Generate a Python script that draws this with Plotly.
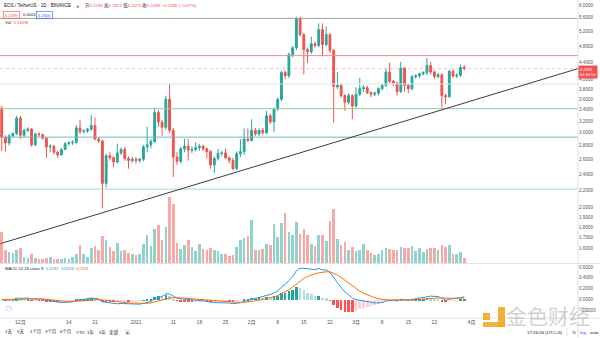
import math
import pandas as pd
import plotly.graph_objects as go

# ---------------- data ----------------
start_date = "2020-11-26"

opens = [3.43, 2.93, 2.84, 2.95, 2.99, 3.25, 2.96, 3.04, 3.06, 2.81,
         2.98, 2.97, 2.91, 2.78, 2.79, 2.70, 2.66, 2.74, 2.83, 2.84,
         2.85, 3.08, 3.02, 3.03, 3.06, 3.12, 2.90, 2.87, 2.28, 2.65,
         2.62, 2.56, 2.69, 2.74, 2.61, 2.58, 2.60, 2.58, 2.60, 2.78,
         2.81, 2.86, 3.35, 3.18, 3.09, 3.60, 3.04, 2.63, 2.57, 2.75,
         2.79, 2.73, 2.74, 2.77, 2.79, 2.75, 2.71, 2.52, 2.61, 2.68,
         2.69, 2.62, 2.58, 2.47, 2.68, 2.71, 2.90, 2.88, 3.04, 2.98,
         3.04, 3.00, 3.29, 3.18, 3.41, 3.60, 4.16, 4.09, 4.59, 4.76,
         5.58, 5.11, 4.71, 4.66, 4.86, 4.82, 5.25, 4.84, 5.11, 4.69,
         3.85, 3.88, 3.67, 3.54, 3.67, 3.47, 3.70, 3.81, 3.83, 3.73,
         3.70, 3.72, 3.81, 3.88, 4.17, 3.97, 3.93, 3.75, 4.26, 3.88,
         3.81, 4.07, 4.09, 4.13, 4.16, 4.32, 4.17, 4.07, 4.11, 3.67,
         3.65, 4.19, 4.08, 4.10, 4.2786]
highs = [3.47, 2.96, 2.98, 3.01, 3.29, 3.29, 3.07, 3.09, 3.08, 3.00,
         3.01, 2.99, 2.93, 2.82, 2.81, 2.72, 2.76, 2.85, 2.87, 2.88,
         3.13, 3.22, 3.06, 3.08, 3.30, 3.26, 2.93, 2.89, 2.68, 2.70,
         2.64, 2.83, 2.77, 2.78, 2.64, 2.63, 2.63, 2.62, 2.81, 3.10,
         2.90, 3.44, 3.40, 3.22, 3.66, 3.91, 3.08, 2.70, 2.78, 2.90,
         2.90, 2.79, 2.85, 2.82, 2.81, 2.77, 2.73, 2.64, 2.75, 2.72,
         2.75, 2.64, 2.62, 2.71, 2.90, 3.07, 3.07, 3.23, 3.08, 3.07,
         3.08, 3.38, 3.33, 3.44, 3.63, 4.20, 4.20, 4.64, 4.80, 5.63,
         5.63, 5.15, 4.76, 5.05, 4.92, 5.43, 5.43, 5.34, 5.15, 4.72,
         4.17, 3.92, 3.70, 3.72, 3.70, 3.84, 4.04, 3.88, 3.87, 3.76,
         3.75, 3.84, 3.91, 4.24, 4.39, 4.00, 3.96, 4.41, 4.29, 3.92,
         4.10, 4.12, 4.16, 4.19, 4.50, 4.41, 4.21, 4.15, 4.14, 3.71,
         4.22, 4.23, 4.14, 4.34, 4.3322]
lows = [2.72, 2.71, 2.80, 2.93, 2.96, 2.90, 2.93, 3.01, 2.78, 2.79,
        2.94, 2.89, 2.62, 2.70, 2.67, 2.62, 2.65, 2.73, 2.80, 2.81,
        2.82, 2.98, 2.99, 3.00, 3.03, 2.88, 2.84, 1.99, 2.23, 2.58,
        2.49, 2.54, 2.66, 2.58, 2.47, 2.55, 2.54, 2.55, 2.57, 2.70,
        2.76, 2.84, 3.10, 2.95, 3.05, 3.00, 2.36, 2.52, 2.54, 2.70,
        2.58, 2.69, 2.71, 2.72, 2.72, 2.62, 2.47, 2.41, 2.58, 2.64,
        2.60, 2.54, 2.45, 2.45, 2.63, 2.66, 2.85, 2.86, 2.95, 2.95,
        2.96, 2.98, 3.14, 3.01, 3.38, 3.56, 4.01, 4.04, 4.52, 4.70,
        5.05, 4.12, 4.38, 4.60, 4.76, 4.78, 4.54, 4.80, 4.62, 3.17,
        3.80, 3.63, 3.38, 3.50, 3.23, 3.44, 3.66, 3.74, 3.70, 3.64,
        3.66, 3.68, 3.78, 3.85, 3.93, 3.86, 3.67, 3.72, 3.75, 3.72,
        3.78, 4.02, 4.04, 4.10, 4.10, 4.12, 4.02, 4.03, 3.44, 3.50,
        3.63, 4.04, 4.04, 4.06, 4.2073]
closes = [2.93, 2.84, 2.95, 2.99, 3.25, 2.96, 3.04, 3.06, 2.81, 2.98,
          2.97, 2.91, 2.78, 2.79, 2.70, 2.66, 2.74, 2.83, 2.84, 2.85,
          3.08, 3.02, 3.03, 3.06, 3.12, 2.90, 2.87, 2.28, 2.65, 2.62,
          2.56, 2.69, 2.74, 2.61, 2.58, 2.60, 2.58, 2.60, 2.78, 2.81,
          2.86, 3.35, 3.18, 3.09, 3.60, 3.04, 2.63, 2.57, 2.75, 2.79,
          2.73, 2.74, 2.77, 2.79, 2.75, 2.71, 2.52, 2.61, 2.68, 2.69,
          2.62, 2.58, 2.47, 2.68, 2.71, 2.90, 2.88, 3.04, 2.98, 3.04,
          3.00, 3.29, 3.18, 3.41, 3.60, 4.16, 4.09, 4.59, 4.76, 5.58,
          5.11, 4.71, 4.66, 4.86, 4.82, 5.25, 4.84, 5.11, 4.69, 3.86,
          3.88, 3.67, 3.54, 3.67, 3.47, 3.70, 3.81, 3.83, 3.73, 3.70,
          3.72, 3.81, 3.88, 4.17, 3.97, 3.93, 3.75, 4.26, 3.88, 3.81,
          4.07, 4.09, 4.13, 4.16, 4.32, 4.17, 4.07, 4.11, 3.67, 3.65,
          4.19, 4.08, 4.10, 4.2786, 4.2499]
volumes_m = [34.1, 14.3, 12.1, 11.0, 14.3, 16.5, 6.6, 5.5, 9.9, 5.5,
             4.4, 4.4, 5.5, 6.6, 4.4, 4.8, 4.4, 5.5, 4.4, 6.6,
             9.9, 19.8, 9.9, 6.6, 16.5, 18.7, 14.3, 29.7, 25.3, 17.6,
             13.2, 22.0, 13.2, 14.3, 11.0, 9.9, 8.8, 9.9, 20.9, 30.8,
             18.7, 37.4, 41.8, 25.3, 39.6, 72.6, 64.9, 22.0, 15.4, 19.8,
             25.3, 17.6, 13.2, 20.9, 15.4, 14.3, 16.5, 14.3, 13.2, 9.9,
             9.9, 7.7, 8.8, 17.6, 25.3, 27.5, 29.7, 47.3, 14.3, 14.3,
             15.4, 20.9, 19.8, 42.9, 28.6, 44.0, 55.0, 34.1, 30.8, 45.1,
             31.9, 37.4, 30.8, 20.9, 18.7, 30.8, 30.8, 24.2, 46.2, 59.4,
             26.4, 19.8, 23.1, 14.3, 17.6, 13.2, 14.3, 20.9, 14.3, 11.0,
             8.8, 9.9, 14.3, 16.5, 15.4, 14.3, 14.3, 17.6, 16.5, 16.5,
             18.7, 13.2, 16.5, 12.1, 15.4, 16.5, 16.5, 14.3, 19.8, 17.6,
             19.8, 9.9, 9.9, 12.1, 5.562]

# horizontal drawing levels and the trend line
level_prices = [5.58, 4.56, 3.91, 3.42, 2.93, 2.21]
trend_dates = ["2020-11-25 13:00", "2021-04-29 12:00"]
trend_prices = [1.643, 4.25]
last_price = 4.2499

price_ticks = [6.0, 5.6, 5.2, 4.8, 4.4, 4.0, 3.8, 3.6, 3.4, 3.2, 3.0, 2.8,
               2.6, 2.4, 2.2, 2.0, 1.9, 1.8, 1.7, 1.6]
macd_ticks = [0.6, 0.4, 0.2, 0.0, -0.2]
tick_dates = ["2020-12-01", "2020-12-14", "2020-12-21", "2021-01-01",
              "2021-01-11", "2021-01-18", "2021-01-25", "2021-02-01",
              "2021-02-08", "2021-02-15", "2021-02-22", "2021-03-01",
              "2021-03-08", "2021-03-15", "2021-03-22", "2021-04-01"]
tick_text = ["12月", "14", "21", "2021", "11", "18", "25", "2月", "8", "15",
             "22", "3月", "8", "15", "22", "4月"]
range_buttons = ["1天", "5天", "1个月", "3个月", "6个月", "YTD", "1年", "5年", "全部"]

# ---------------- styles ----------------
UP = "#26a69a"
DN = "#ef5350"
level_colors = ["#a0a0a0", "#ef8a87", "#dde5e0", "#98cc9c", "#6bbcc3", "#a3d3dc"]
FONT = "Liberation Sans, Noto Sans CJK SC, sans-serif"
W, H = 600, 338
ML, MR, MT, MB = 0, 22, 0, 20
PW, PH = W - ML - MR, H - MT - MB


def px(x):
    return x / PW


def py(y):
    return 1 - y / PH


dates = pd.date_range(start_date, periods=len(closes), freq="D")
day = pd.Timedelta(days=1)
x_range = [pd.Timestamp(start_date) - 0.456 * day,
           pd.Timestamp(start_date) + ((PW - 1.7) / 3.73) * day]

# MACD (12, 26, 9) from the closes
cs = pd.Series(closes)
ema12 = cs.ewm(span=12, adjust=False).mean()
ema26 = cs.ewm(span=26, adjust=False).mean()
macd = ema12 - ema26
signal = macd.ewm(span=9, adjust=False).mean()
hist = macd - signal
hcol = []
for i, h in enumerate(hist):
    prev = hist[i - 1] if i > 0 else h
    if h >= 0:
        hcol.append("#26a69a" if h >= prev else "#b2dfdb")
    else:
        hcol.append("#ff5252" if h < prev else "#ffcdd2")

vcol = ["rgba(38,166,154,0.5)" if c >= o else "rgba(239,83,80,0.5)" for o, c in zip(opens, closes)]

fig = go.Figure()

# volume (overlay, behind)
fig.add_trace(go.Bar(x=dates, y=volumes_m, marker=dict(color=vcol, line=dict(width=0)),
                     width=0.7 * 86400000, xaxis="x", yaxis="y2", hoverinfo="skip"))

# level lines
for lv, col in zip(level_prices, level_colors):
    fig.add_trace(go.Scatter(x=x_range, y=[lv, lv], mode="lines",
                             line=dict(color=col, width=1), xaxis="x", yaxis="y", hoverinfo="skip"))
# current price line
fig.add_trace(go.Scatter(x=x_range, y=[last_price, last_price], mode="lines",
                         line=dict(color="rgba(239,83,80,0.35)", width=1, dash="dot"),
                         xaxis="x", yaxis="y", hoverinfo="skip"))
# trend line
fig.add_trace(go.Scatter(x=pd.to_datetime(trend_dates), y=trend_prices, mode="lines",
                         line=dict(color="#3c3c3c", width=1), xaxis="x", yaxis="y", hoverinfo="skip"))

# candles
fig.add_trace(go.Candlestick(x=dates, open=opens, high=highs, low=lows, close=closes,
                             increasing=dict(line=dict(color=UP, width=1), fillcolor=UP),
                             decreasing=dict(line=dict(color=DN, width=1), fillcolor=DN),
                             whiskerwidth=0, xaxis="x", yaxis="y"))

# MACD pane
fig.add_trace(go.Bar(x=dates, y=hist, marker=dict(color=hcol, line=dict(width=0)),
                     width=0.7 * 86400000, xaxis="x", yaxis="y3"))
fig.add_trace(go.Scatter(x=dates, y=macd, mode="lines", line=dict(color="#2196f3", width=1),
                         xaxis="x", yaxis="y3"))
fig.add_trace(go.Scatter(x=dates, y=signal, mode="lines", line=dict(color="#ff6d00", width=1),
                         xaxis="x", yaxis="y3"))

top_p = 6.0 * math.exp(5 / 184)
bot_p = 6.0 * math.exp(-258 / 184)
price_dom = [1 - 263.5 / PH, 1]
macd_dom = [0, 1 - 264.5 / PH]
macd_lo, macd_hi = -0.336, 0.645

tickfont = dict(family=FONT, size=4.6, color="#50535e")

fig.update_layout(
    width=W, height=H, margin=dict(l=ML, r=MR, t=MT, b=MB),
    paper_bgcolor="white", plot_bgcolor="white", showlegend=False,
    bargap=0, font=dict(family=FONT),
    xaxis=dict(type="date", range=x_range, anchor="y3", showgrid=False, zeroline=False,
               rangeslider=dict(visible=False), tickvals=pd.to_datetime(tick_dates),
               ticktext=tick_text, ticks="", tickfont=dict(family=FONT, size=5, color="#50535e"),
               showline=False),
    yaxis=dict(domain=price_dom, type="log", range=[math.log10(bot_p), math.log10(top_p)],
               side="right", anchor="x", showgrid=False, zeroline=False, tickvals=price_ticks,
               tickformat=".4f", ticks="", tickfont=tickfont, showline=False),
    yaxis2=dict(overlaying="y", range=[0, 263 * 1.1], visible=False, showgrid=False),
    yaxis3=dict(domain=macd_dom, range=[macd_lo, macd_hi], side="right", anchor="x",
                showgrid=False, zeroline=False, tickvals=macd_ticks, tickformat=".4f",
                ticks="", tickfont=tickfont, showline=False),
)

# borders / separators
line_col = "#e0e3eb"
fig.add_shape(type="line", xref="paper", yref="paper", x0=1, x1=1, y0=-MB / PH, y1=1,
              line=dict(color=line_col, width=1))
fig.add_shape(type="line", xref="paper", yref="paper", x0=0, x1=W / PW, y0=py(263.5), y1=py(263.5),
              line=dict(color=line_col, width=1))
fig.add_shape(type="line", xref="paper", yref="paper", x0=0, x1=W / PW, y0=0, y1=0,
              line=dict(color=line_col, width=1))
fig.add_shape(type="line", xref="paper", yref="paper", x0=px(567), x1=px(567), y0=py(328), y1=py(336),
              line=dict(color=line_col, width=1))
fig.add_shape(type="line", xref="paper", yref="paper", x0=px(118), x1=px(118), y0=py(328), y1=py(336),
              line=dict(color=line_col, width=1))

# watermark emblem (orange block mark)
ORG = "rgba(245,166,35,0.9)"
for (x0, y0, x1, y1) in [(483, 313, 490, 320), (498, 307, 505, 327), (483, 322, 505, 327)]:
    fig.add_shape(type="rect", xref="paper", yref="paper", x0=px(x0), x1=px(x1), y0=py(y1), y1=py(y0),
                  line=dict(width=0), fillcolor=ORG, layer="above")

ann = []


def text(x, y, t, size=4.6, color="#131722", xanchor="left", **kw):
    ann.append(dict(x=px(x), y=py(y), xref="paper", yref="paper", text=t, showarrow=False,
                    xanchor=xanchor, yanchor="middle", font=dict(family=FONT, size=size, color=color), **kw))


R = DN
text(2, 6, "EOS / TetherUS · 1D · BINANCE", 4.6, "#131722")
text(74, 6, "●", 5, "#26a69a")
text(83, 6, f"开<span style='color:{R}'>4.2786</span> 高<span style='color:{R}'>4.3322</span> "
            f"低<span style='color:{R}'>4.2073</span> 收<span style='color:{R}'>4.2499</span> "
            f"<span style='color:{R}'>−0.0286 (−0.67%)</span>", 4.4, "#131722")
text(3, 15, "4.2499", 4.2, R, bordercolor=R, borderwidth=0.6, borderpad=1)
text(21, 15, "0.0001", 4.2, "#131722")
text(36, 15, "4.2500", 4.2, "#2962ff", bordercolor="#2962ff", borderwidth=0.6, borderpad=1)
text(3, 23, f"Vol  <span style='color:{R}'>5.562M</span>", 4.4, "#131722")
text(3, 268, "MACD 12 26 close 9  <span style='color:#26a69a'>0.0187</span>  "
             "<span style='color:#2196f3'>0.0518</span>  <span style='color:#ff6d00'>0.0331</span>",
     4.2, "#131722")
text(3, 308, "☁", 7, "#2962ff")

# price label on the axis
ann.append(dict(x=1, y=math.log10(last_price), xref="paper", yref="y", xanchor="left", yanchor="middle",
                yshift=-3, text="4.2499<br>04:33:54", showarrow=False, align="left", bgcolor=R,
                font=dict(family=FONT, size=4.0, color="white"), borderpad=0.8))

# bottom toolbar
btn_x = [3, 15, 28, 43, 58, 74, 85, 97, 107]
for bx, bt in zip(btn_x, range_buttons):
    text(bx, 332, bt, 4.4, "#131722")
text(123, 332, "▣", 5, "#50535e")
text(525, 332, "17:26:06 (UTC+8)", 4.4, "#131722")
text(570, 332, "%", 4.4, "#131722")
text(578, 332, "log", 4.4, "#2962ff")
text(588, 332, "auto", 4.4, "#131722")

# watermark text
text(548, 316, "金色财经", 21, "rgba(150,150,150,0.45)", xanchor="center")

fig.update_layout(annotations=ann)
fig.write_html("out.html")
